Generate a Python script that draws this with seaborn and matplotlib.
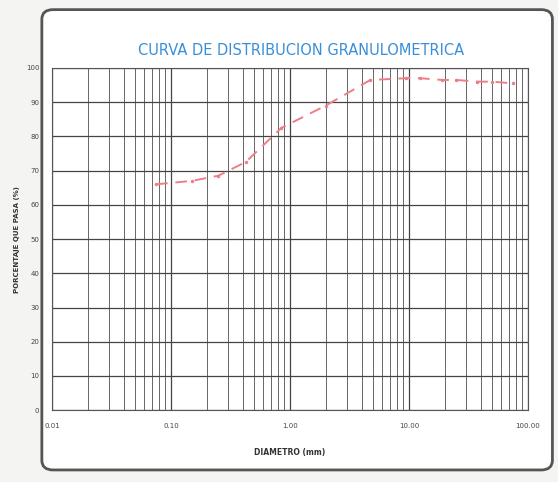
import numpy as np
import pandas as pd
import seaborn as sns
import matplotlib.pyplot as plt
from matplotlib.patches import FancyBboxPatch

# Données : tamices (mm) et porcentaje que pasa
diametro = [0.075, 0.15, 0.25, 0.425, 0.85, 2.0, 4.75, 9.5, 12.5, 19.0, 25.0, 37.5, 50.0, 75.0]
pasa = [66.0, 67.0, 68.5, 72.5, 82.5, 89.0, 96.5, 97.0, 97.0, 96.5, 96.5, 96.0, 96.0, 95.5]
xticks = [0.01, 0.1, 1, 10, 100]
xtick_labels = ["0.01", "0.10", "1.00", "10.00", "100.00"]
yticks = list(range(0, 101, 10))

df = pd.DataFrame({"diametro": diametro, "pasa": pasa})

sns.set_theme(style="white")
plt.rcParams["font.family"] = ["DejaVu Sans"]

fig = plt.figure(figsize=(5.58, 4.82), dpi=100)
fig.patch.set_facecolor("#f4f4f2")

# cadre du papier
cadre = FancyBboxPatch((0.075, 0.025), 0.915, 0.955, boxstyle="round,pad=0,rounding_size=0.02",
                       transform=fig.transFigure, facecolor="white", edgecolor="#555555",
                       linewidth=2.0, zorder=-5)
fig.patches.append(cadre)

ax = fig.add_axes([0.093, 0.149, 0.853, 0.71])
ax.set_zorder(5)
ax.set_facecolor("white")

sns.lineplot(data=df, x="diametro", y="pasa", ax=ax, color="#ee7d88",
             linewidth=1.4, marker="o", markersize=2.5, dashes=False,
             markeredgewidth=0, zorder=3)
ax.lines[0].set_dashes([6, 4])

ax.set_xscale("log")
ax.set_xlim(0.01, 100)
ax.set_ylim(0, 100)
ax.set_xticks(xticks)
ax.set_xticklabels(xtick_labels)
ax.set_yticks(yticks)

ax.grid(True, which="major", color="#444444", linewidth=0.9)
ax.grid(True, which="minor", axis="x", color="#666666", linewidth=0.7)
for s in ax.spines.values():
    s.set_color("#555555")
    s.set_linewidth(0.8)

ax.tick_params(axis="both", labelsize=5, colors="#444444", length=2, pad=7)
ax.set_xlabel("DIAMETRO (mm)", fontsize=5.5, color="#333333", fontweight="bold", labelpad=14)
ax.set_ylabel("PORCENTAJE QUE PASA (%)", fontsize=5, color="#333333", fontweight="bold", labelpad=4)

fig.suptitle("CURVA DE DISTRIBUCION GRANULOMETRICA", x=0.54, y=0.91,
             fontsize=10.5, color="#3a8fd8")

fig.savefig("out.png", dpi=100)
